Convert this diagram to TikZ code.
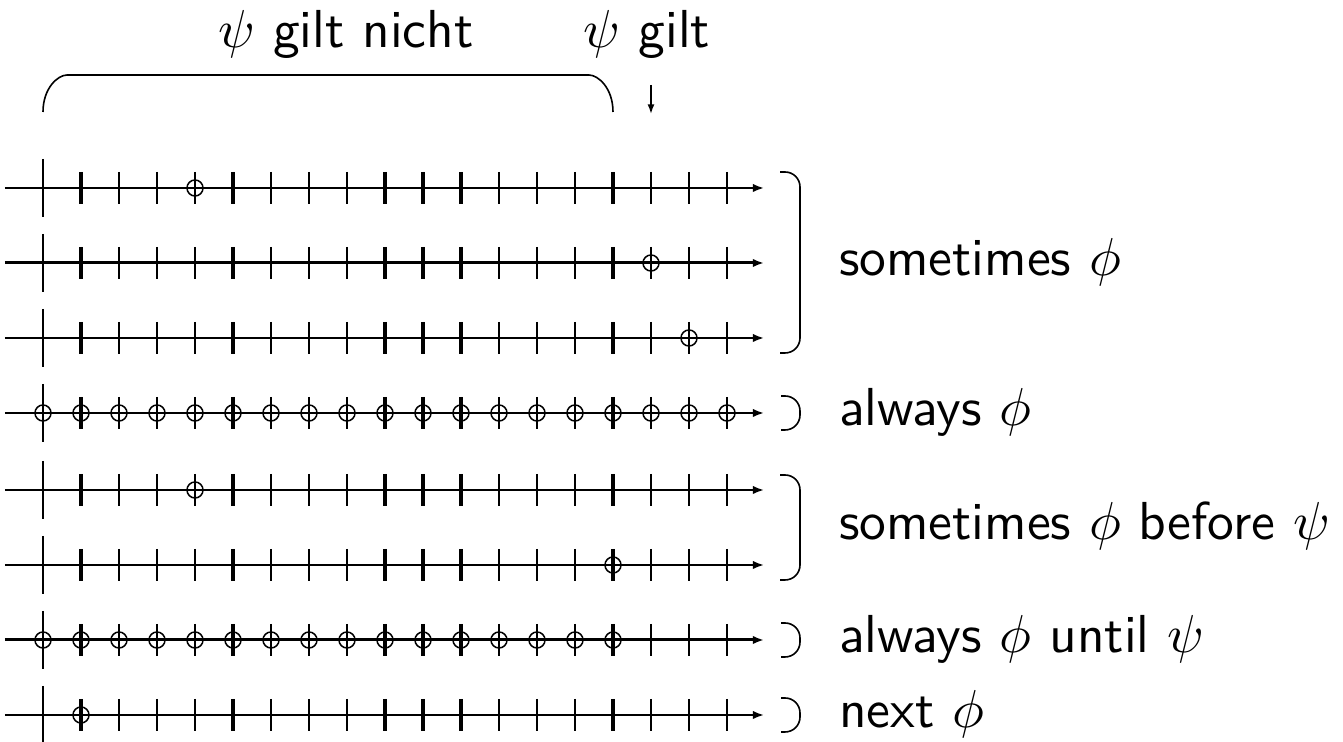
\documentclass[tikz,border=0pt]{standalone}
\usepackage{amsmath,amssymb}
\usepackage{tikz}
\usetikzlibrary{arrows.meta,positioning}

\begin{document}
\begin{tikzpicture}[
    x=0.187pt, y=-0.187pt,
    axis/.style={-{Latex[length=2.1pt,width=1.6pt]}, line width=0.38pt},
    boldaxis/.style={axis, line width=0.56pt},
    origin/.style={line width=0.38pt},
    tick/.style={line width=0.38pt},
    boldtick/.style={line width=0.65pt},
    hit/.style={line width=0.28pt},
    grp/.style={line width=0.3pt, rounded corners=2.8pt},
    pointer/.style={-{Latex[length=1.8pt,width=1.3pt]}, line width=0.3pt},
    lbl/.style={anchor=base west, inner sep=0pt, font=\sffamily},
    toplbl/.style={anchor=base, inner sep=0pt, font=\sffamily}
  ]
    \useasboundingbox (0,0) rectangle (1343,742);

    \foreach \y/\st in {188/axis,263/boldaxis,338/axis,413/axis,490/axis,565/axis,640/boldaxis,715/axis}{
      \draw[\st] (5,\y) -- (764,\y);
      \draw[origin] (43,\y-29) -- (43,\y+29);
      \foreach \i in {1,...,18}
        \draw[tick] (43+38*\i,\y-16) -- (43+38*\i,\y+16);
      \foreach \i in {1,5,9,10,11,15}
        \draw[boldtick] (43+38*\i,\y-16) -- (43+38*\i,\y+16);
    }

    \foreach \y/\i in {188/4,263/16,338/17,490/4,565/15,715/1}
      \draw[hit] (43+38*\i,\y) circle[radius=1.5pt];
    \foreach \i in {0,...,18}
      \draw[hit] (43+38*\i,413) circle[radius=1.5pt];
    \foreach \i in {0,...,15}
      \draw[hit] (43+38*\i,640) circle[radius=1.5pt];

    \draw[grp] (780,172) -- (800,172) -- (800,353) -- (780,353);
    \draw[grp] (780,475) -- (800,475) -- (800,580) -- (780,580);
    \foreach \y in {413,640,715}
      \draw[grp] (781,\y-17) -- (800,\y-17) -- (800,\y+17) -- (781,\y+17);

    \node[lbl] (sometimes) at (838,276) {sometimes $\phi$};
    \node[lbl] (always) at (838,426) {always $\phi$};
    \node[lbl] (before) at (838,540) {sometimes $\phi$ before $\psi$};
    \node[lbl] (until) at (838,653) {always $\phi$ until $\psi$};
    \node[lbl] (next) at (838,728) {next $\phi$};

    \node[toplbl] (notholds) at (346,48) {$\psi$ gilt nicht};
    \node[toplbl] (holds) at (647,48) {$\psi$ gilt};

    \draw[grp] (43,112) .. controls (43,88) and (58,75) .. (82,75) -- (574,75)
      .. controls (598,75) and (613,88) .. (613,112);

    \coordinate (holdstop) at (651,85);
    \coordinate (holdstip) at (651,114);
    \draw[pointer] (holdstop) -- (holdstip);
  \end{tikzpicture}
\end{document}
